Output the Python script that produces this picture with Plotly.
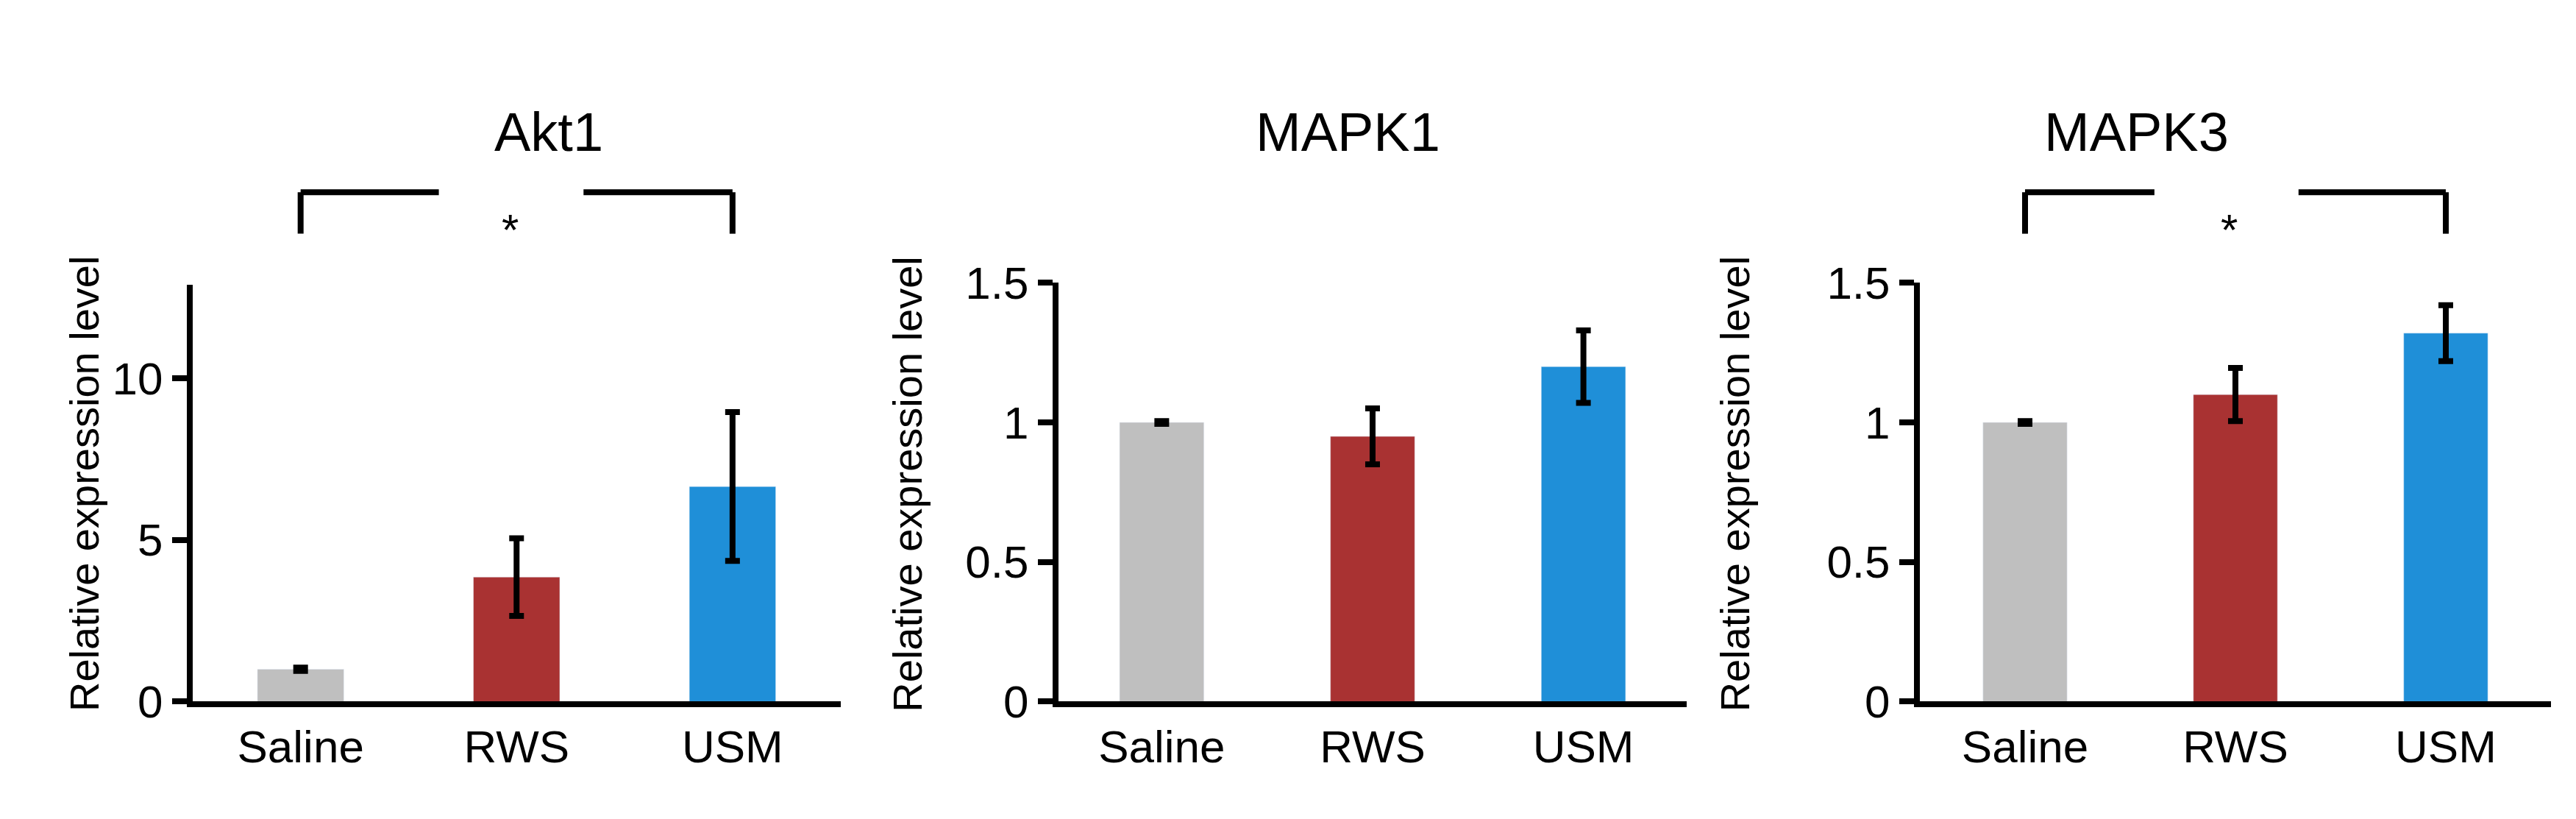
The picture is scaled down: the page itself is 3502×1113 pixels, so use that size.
import plotly.graph_objects as go

categories = ["Saline", "RWS", "USM"]
titles = ["Akt1", "MAPK1", "MAPK3"]
akt1 = [1.0, 3.85, 6.65]
akt1_err = [0.05, 1.2, 2.3]
mapk1 = [1.0, 0.95, 1.2]
mapk1_err = [0.005, 0.1, 0.13]
mapk3 = [1.0, 1.1, 1.32]
mapk3_err = [0.005, 0.095, 0.1]
colors = ["#BFBFBF", "#A93232", "#1F8FD8"]
yranges = [[0, 12.9], [0, 1.5], [0, 1.5]]
yticks = [[0, 5, 10], [0, 0.5, 1, 1.5], [0, 0.5, 1, 1.5]]
yticktext = [["0", "5", "10"], ["0", "0.5", "1", "1.5"], ["0", "0.5", "1", "1.5"]]
significant = [True, False, True]

values = [akt1, mapk1, mapk3]
errors = [akt1_err, mapk1_err, mapk3_err]
xdomains = [[0.0725, 0.324], [0.4086, 0.6525], [0.743, 0.988]]
xranges = [[-0.5, 2.5], [-0.49, 2.49], [-0.5, 2.5]]
ydomains = [[0.127, 0.670], [0.127, 0.672], [0.127, 0.672]]
title_x = [0.189, 0.521, 0.8636]
ytitle_x = [0.021, 0.350, 0.681]
gaps = [(0.64, 1.31), None, (0.615, 1.30)]
FONT = "Liberation Sans, Arial"

fig = go.Figure()
layout = dict(width=3502, height=1113, plot_bgcolor="white", paper_bgcolor="white",
              margin=dict(l=0, r=0, t=0, b=0), showlegend=False,
              font=dict(family=FONT, color="black"), annotations=[], shapes=[])
for i in range(3):
    sfx = "" if i == 0 else str(i + 1)
    fig.add_trace(go.Bar(x=list(range(3)), y=values[i], marker_color=colors, width=0.4,
                         xaxis="x" + sfx, yaxis="y" + sfx,
                         error_y=dict(type="data", array=errors[i], color="black",
                                      thickness=8, width=10)))
    layout["xaxis" + sfx] = dict(domain=xdomains[i], range=xranges[i], anchor="y" + sfx,
                                 tickvals=list(range(3)), ticktext=categories,
                                 tickfont=dict(size=62), showline=True, linecolor="black",
                                 linewidth=8, ticks="", showgrid=False, zeroline=False)
    layout["yaxis" + sfx] = dict(domain=ydomains[i], range=yranges[i], anchor="x" + sfx,
                                 tickvals=yticks[i], ticktext=yticktext[i],
                                 tickfont=dict(size=62), showline=True, linecolor="black",
                                 linewidth=8, ticks="outside", ticklen=20, tickwidth=8,
                                 tickcolor="black", showgrid=False, zeroline=False)
    layout["annotations"].append(dict(text=titles[i], x=title_x[i], y=0.91, xref="paper",
                                      yref="paper", showarrow=False, font=dict(size=74)))
    layout["annotations"].append(dict(text="Relative expression level", x=ytitle_x[i], y=0.41,
                                      xref="paper", yref="paper", textangle=-90,
                                      showarrow=False, font=dict(size=56)))
    if significant[i]:
        xr = "x" + sfx
        line = dict(color="black", width=8)
        g0, g1 = gaps[i]
        for x0, x1 in [(0, g0), (g1, 2)]:
            layout["shapes"].append(dict(type="line", xref=xr, yref="paper", x0=x0, x1=x1,
                                         y0=0.79, y1=0.79, line=line))
        for xe in [0, 2]:
            layout["shapes"].append(dict(type="line", xref=xr, yref="paper", x0=xe, x1=xe,
                                         y0=0.79, y1=0.736, line=line))
        layout["annotations"].append(dict(text="*", x=0.97, y=0.775, xref=xr, yref="paper",
                                          showarrow=False, font=dict(size=60)))
fig.update_layout(**layout)
fig.write_html("out.html")
